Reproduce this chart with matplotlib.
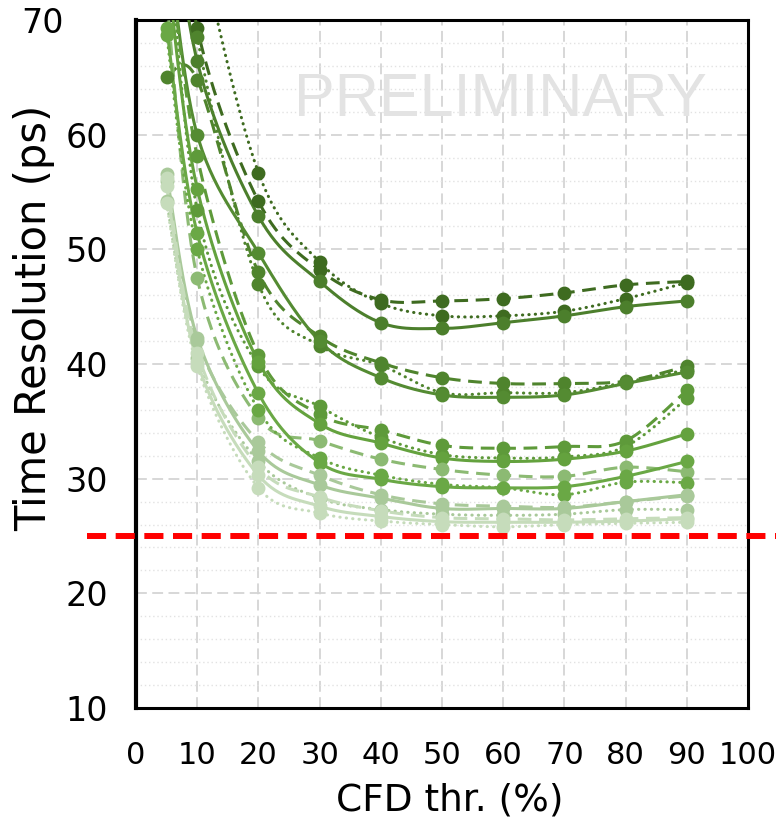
import numpy as np
import matplotlib
matplotlib.use("Agg")
import matplotlib.pyplot as plt

# CFD threshold (%)
cfd = [5, 10, 20, 30, 40, 50, 60, 70, 80, 90]

# time resolution (ps); 3 line styles per colour group
g1_solid  = [85.0, 66.4, 52.9, 47.2, 43.6, 43.1, 43.6, 44.2, 45.0, 45.5]
g1_dashed = [90.0, 69.3, 54.2, 48.2, 45.6, 45.5, 45.7, 46.2, 46.9, 47.2]
g1_dotted = [95.0, 78.0, 56.7, 48.9, 45.3, 44.2, 44.2, 44.6, 45.7, 47.1]

g2_solid  = [78.0, 60.0, 49.7, 42.0, 38.8, 37.3, 37.1, 37.3, 38.3, 39.3]
g2_dashed = [65.0, 64.8, 48.0, 42.4, 40.1, 38.8, 38.3, 38.3, 38.5, 39.8]
g2_dotted = [88.0, 68.5, 47.0, 41.6, 39.9, 37.5, 37.5, 37.5, 38.4, 39.5]

g3_solid  = [75.0, 55.3, 40.2, 34.8, 33.1, 31.8, 31.5, 31.7, 32.4, 33.9]
g3_dashed = [78.0, 58.1, 40.8, 35.6, 34.25, 32.9, 32.65, 32.8, 33.3, 37.7]
g3_dotted = [80.0, 53.4, 39.8, 36.3, 33.6, 32.1, 31.8, 31.9, 32.8, 37.0]

g4_solid  = [69.3, 51.4, 37.45, 31.4, 29.95, 29.3, 29.2, 29.3, 30.2, 31.5]
g4_dashed = [72.0, 47.5, 35.3, 33.3, 31.7, 30.8, 30.3, 30.2, 31.0, 30.6]
g4_dotted = [68.7, 50.0, 36.0, 31.8, 30.3, 29.5, 29.2, 28.6, 29.7, 29.65]

g5_solid  = [56.6, 42.3, 32.4, 29.45, 28.3, 27.4, 27.4, 27.4, 28.0, 28.6]
g5_dashed = [56.0, 42.0, 33.2, 30.3, 28.6, 27.8, 27.6, 27.5, 28.0, 28.5]
g5_dotted = [54.2, 40.5, 31.5, 28.3, 27.3, 26.9, 26.8, 26.9, 27.3, 27.3]

g6_solid  = [55.5, 40.2, 30.3, 27.6, 26.7, 26.25, 26.2, 26.2, 26.3, 26.5]
g6_dashed = [56.2, 41.0, 31.0, 28.4, 27.2, 26.6, 26.5, 26.4, 26.5, 26.6]
g6_dotted = [54.0, 39.8, 29.2, 27.0, 26.3, 26.0, 25.8, 26.0, 26.1, 26.2]

target = 25.0

series = [
    (g1_dashed, "#3e6b20", "dashed"), (g1_dotted, "#3e6b20", "dotted"), (g1_solid, "#4c7f2c", "solid"),
    (g2_dashed, "#4f842d", "dashed"), (g2_dotted, "#4f842d", "dotted"), (g2_solid, "#548b32", "solid"),
    (g3_dashed, "#5e9a3a", "dashed"), (g3_dotted, "#5e9a3a", "dotted"), (g3_solid, "#64a23e", "solid"),
    (g4_dashed, "#8cba73", "dashed"), (g4_dotted, "#6aa845", "dotted"), (g4_solid, "#6aa845", "solid"),
    (g5_dashed, "#a9c99a", "dashed"), (g5_dotted, "#a9c99a", "dotted"), (g5_solid, "#a9c99a", "solid"),
    (g6_dashed, "#c6dcbb", "dashed"), (g6_dotted, "#c6dcbb", "dotted"), (g6_solid, "#c6dcbb", "solid"),
]


def smooth(x, y, n=30):
    # Excel-like smoothed line (Catmull-Rom bezier)
    x = np.asarray(x, float)
    y = np.asarray(y, float)
    px = np.concatenate([[x[0]], x, [x[-1]]])
    py = np.concatenate([[y[0]], y, [y[-1]]])
    xs, ys = [], []
    t = np.linspace(0, 1, n)
    for i in range(1, len(px) - 2):
        p0 = np.array([px[i], py[i]])
        p3 = np.array([px[i + 1], py[i + 1]])
        c1 = p0 + (p3 - np.array([px[i - 1], py[i - 1]])) / 6
        c2 = p3 - (np.array([px[i + 2], py[i + 2]]) - p0) / 6
        b = ((1 - t) ** 3)[:, None] * p0 + (3 * (1 - t) ** 2 * t)[:, None] * c1 \
            + (3 * (1 - t) * t ** 2)[:, None] * c2 + (t ** 3)[:, None] * p3
        xs.extend(b[:, 0])
        ys.extend(b[:, 1])
    return xs, ys


styles = {
    "solid": dict(linestyle="-"),
    "dashed": dict(linestyle=(0, (4.5, 2.5))),
    "dotted": dict(linestyle=(0, (0.1, 2.0)), dash_capstyle="round"),
}

fig = plt.figure(figsize=(7.76, 8.32), dpi=100)
ax = fig.add_axes([136 / 776, 1 - 708 / 832, 612 / 776, 688 / 832])

for ys, col, ls in series:
    sx, sy = smooth(cfd, ys)
    ax.plot(sx, sy, color=col, lw=2.2, **styles[ls], zorder=3)
    ax.plot(cfd, ys, "o", color=col, ms=10, mec="none", zorder=4)

ax.plot([-8, 108], [target, target], color="#ff0000", lw=4.3,
        linestyle=(0, (3.2, 1.6)), clip_on=False, zorder=5)

ax.text(59.5, 63.0, "PRELIMINARY", color="#e3e3e3", fontsize=44,
        family="Liberation Sans", ha="center", va="center", zorder=1)

ax.set_xlim(0, 100)
ax.set_ylim(10, 70)
ax.set_xticks(range(0, 101, 10))
ax.set_yticks(range(10, 71, 10))
ax.set_yticks(range(10, 71, 2), minor=True)
ax.grid(True, which="major", color="#d4d4d4", lw=1.3, linestyle=(0, (6, 3)), zorder=0)
ax.grid(True, which="minor", axis="y", color="#e2e2e2", lw=1.0, linestyle=(0, (1, 2)), zorder=0)
ax.set_axisbelow(True)
ax.tick_params(which="both", length=0)
ax.tick_params(axis="x", pad=24, labelsize=22)
ax.tick_params(axis="y", pad=20, labelsize=24)
# top label sits further left, above the axis title
ax.yaxis.get_major_ticks()[-1].set_pad(52)
for s in ax.spines.values():
    s.set_linewidth(2.2)
    s.set_color("black")
ax.spines["left"].set_linewidth(3)

fig.text(450 / 776, 1 - 800 / 832, "CFD thr. (%)", fontsize=27, ha="center", va="center")
fig.text(34 / 776, 1 - 318 / 832, "Time Resolution (ps)", fontsize=30, rotation=90,
         ha="center", va="center")

fig.savefig("out.png", dpi=100)
